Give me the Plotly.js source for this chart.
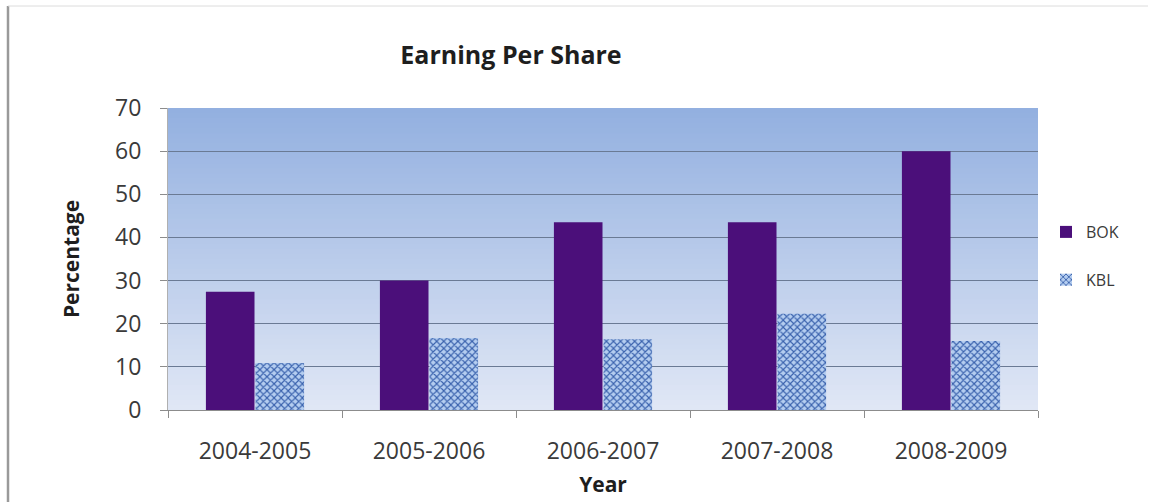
<!DOCTYPE html>
<html>
<head>
<meta charset="utf-8">
<script src="https://cdn.plot.ly/plotly-3.0.1.min.js"></script>
<style>
  html, body { margin: 0; padding: 0; background: #ffffff; }
  #chart { width: 1152px; height: 502px; }
</style>
</head>
<body>
<div id="chart"></div>
<script>
const years = ["2004-2005", "2005-2006", "2006-2007", "2007-2008", "2008-2009"];
const bok = [27.4, 30, 43.5, 43.5, 60];
const kbl = [10.9, 16.7, 16.4, 22.3, 16.0];
const yTicks = [0, 10, 20, 30, 40, 50, 60, 70];

const font = "Open Sans, Noto Sans, sans-serif";

// gradient background bands for the plot area (overlapping to avoid seams)
const shapes = [];
const N = 60;
const gradTop = [147, 176, 224], gradBot = [224, 231, 245];
for (let i = 0; i < N; i++) {
  const t = i / (N - 1);
  const c = gradTop.map((v, k) => Math.round(v + (gradBot[k] - v) * t));
  shapes.push({
    type: "rect", xref: "paper", yref: "paper", layer: "below",
    x0: 0, x1: 1, y0: Math.max(0, 1 - (i + 1.6) / N), y1: 1 - i / N,
    fillcolor: `rgb(${c[0]},${c[1]},${c[2]})`, line: { width: 0 }
  });
}
// outer frame lines (left gray bar, top light line)
const px2x = px => (px - 168) / 870;
const py2y = py => (410 - py) / 302;
shapes.push({ type: "line", xref: "paper", yref: "paper", x0: px2x(8), x1: px2x(8), y0: py2y(6), y1: py2y(502), line: { color: "#9a9a9a", width: 2.5 } });
shapes.push({ type: "line", xref: "paper", yref: "paper", x0: px2x(8), x1: px2x(1148), y0: py2y(6), y1: py2y(6), line: { color: "#dcdcdc", width: 1 } });

const traces = [
  {
    type: "bar", name: "BOK", x: years, y: bok, legendgroup: "a",
    marker: { color: "#4b0f7a", line: { width: 0 } }
  },
  {
    type: "bar", name: "KBL", x: years, y: kbl, legendgroup: "b",
    marker: {
      color: "#a9c6ee", line: { width: 0 },
      pattern: { shape: "x", fgcolor: "#3a62ad", bgcolor: "#b4cdf0", size: 5, solidity: 0.4 }
    }
  }
];

const layout = {
  width: 1152, height: 502,
  margin: { l: 168, r: 114, t: 108, b: 92 },
  paper_bgcolor: "#ffffff",
  plot_bgcolor: "rgba(0,0,0,0)",
  font: { family: font, color: "#3a3a3a" },
  title: {
    text: "<b>Earning Per Share</b>",
    font: { family: font, size: 25, color: "#1e1e1e" },
    x: 511 / 1152, xanchor: "center", xref: "container",
    y: 1 - 55 / 502, yanchor: "middle", yref: "container"
  },
  barmode: "group",
  bargap: 0.43,
  bargroupgap: 0.02,
  xaxis: {
    type: "category",
    tickfont: { family: font, size: 23, color: "#3a3a3a" },
    ticks: "outside", ticklen: 7, tickcolor: "#8c8c8c", tickson: "boundaries",
    ticklabelstandoff: 20,
    showline: true, linecolor: "#8c8c8c", linewidth: 1,
    showgrid: false,
    title: { text: "<b>Year</b>", font: { family: font, size: 21, color: "#1e1e1e" }, standoff: 12 }
  },
  yaxis: {
    range: [0, 70],
    tickvals: yTicks,
    tickfont: { family: font, size: 23, color: "#3a3a3a" },
    ticks: "outside", ticklen: 7, tickcolor: "#8c8c8c",
    ticklabelstandoff: 14,
    showline: true, linecolor: "#b0b0b0", linewidth: 1,
    showgrid: true, gridcolor: "#6a7a94", gridwidth: 1,
    zeroline: false,
    title: { text: "<b>Percentage</b>", font: { family: font, size: 21, color: "#1e1e1e" }, standoff: 29 }
  },
  legend: {
    x: px2x(1046), xanchor: "left", xref: "paper",
    y: py2y(256), yanchor: "middle",
    font: { family: font, size: 16, color: "#3a3a3a" },
    traceorder: "grouped", tracegroupgap: 24,
    itemwidth: 30, bgcolor: "rgba(0,0,0,0)"
  },
  shapes: shapes
};

Plotly.newPlot("chart", traces, layout, { displayModeBar: false, staticPlot: true });
</script>
</body>
</html>
